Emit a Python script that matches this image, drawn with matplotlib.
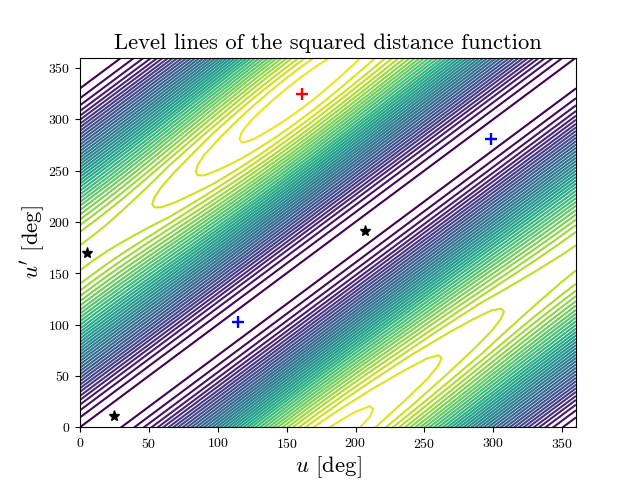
import numpy as np
import matplotlib
matplotlib.use('Agg')
import matplotlib.pyplot as plt

plt.rcParams['font.family'] = ['cmr10', 'DejaVu Serif']
plt.rcParams['mathtext.fontset'] = 'cm'
plt.rcParams['axes.formatter.use_mathtext'] = True

# level number, by offset from the valley line
valley_v = -15
offsets = [0, 8, 15, 20, 25, 30, 35, 40, 50, 60, 70, 80, 90, 100, 110, 120,
           130, 140, 150, 155, 160, 165, 170, 175, 180]
levels_at_offset = [-0.7, -0.5, 0.0, 0.5, 1.05, 1.75, 2.6, 3.6, 6.2, 9.2, 12.4,
                    15.8, 19.3, 22.8, 26.2, 29.3, 32.3, 34.9, 37.0, 37.8,
                    38.3, 38.75, 39.1, 39.27, 39.32]
# height of the ridge line along u, and how much of its change reaches each offset
u_cols = list(range(0, 361, 10))
ridge_height = [36.32, 36.32, 36.38, 36.5, 36.7, 36.93, 37.22, 37.55, 37.87, 38.2,
                38.52, 38.84, 39.12, 39.32, 39.48, 39.58, 39.62, 39.6, 39.5, 39.38,
                39.22, 39.06, 38.85, 38.65, 38.45, 38.25, 38.05, 37.85, 37.62, 37.4,
                37.17, 36.95, 36.77, 36.6, 36.47, 36.37, 36.32]
ridge_share = [0, 0, 0, 0, 0, 0, 0, 0, 0.02, 0.05, 0.1, 0.2, 0.3, 0.4, 0.5, 0.6,
               0.7, 0.8, 0.88, 0.92, 0.95, 0.97, 0.99, 1, 1]

stars_u = [25, 207, 5]
stars_up = [11, 191, 170]
minima_u = [115, 298]
minima_up = [102, 281]
maxima_u = [161]
maxima_up = [325]
n_levels = 40


def build_field():
    off = np.array(offsets, dtype=float)
    v = np.concatenate([valley_v - off[::-1], valley_v + off[1:]])
    base = np.array(levels_at_offset)
    share = np.array(ridge_share)
    base = np.concatenate([base[::-1], base[1:]])
    share = np.concatenate([share[::-1], share[1:]])
    z = base[:, None] + np.outer(share, np.array(ridge_height) - levels_at_offset[-1])
    # one period in u'-u, repeated so the whole square is covered
    v_all = np.concatenate([v - 360, v[1:], v[1:] + 360])
    z_all = np.vstack([z, z[1:], z[1:]])
    u = np.array(u_cols, dtype=float)
    X, V = np.meshgrid(u, v_all)
    return X, X + V, z_all


X, Y, Z = build_field()

plt.figure(figsize=(6.4, 4.8), dpi=100)
plt.contour(X, Y, Z, levels=np.arange(n_levels), cmap='viridis', vmin=0, vmax=n_levels)
plt.plot(stars_u, stars_up, '*', color='k', markersize=8)
plt.plot(minima_u, minima_up, '+', color='b', markersize=9, markeredgewidth=1.7)
plt.plot(maxima_u, maxima_up, '+', color='r', markersize=9, markeredgewidth=1.7)
plt.xlim(0, 360)
plt.ylim(0, 360)
plt.xticks(range(0, 360, 50))
plt.yticks(range(0, 360, 50))
plt.xlabel(r"$u$ [deg]", fontsize=16.4, labelpad=2.5)
plt.ylabel(r"$u'$ [deg]", fontsize=16.4, labelpad=0.5)
plt.title('Level lines of the squared distance function', fontsize=16.3)
plt.savefig('out.png', dpi=100)
